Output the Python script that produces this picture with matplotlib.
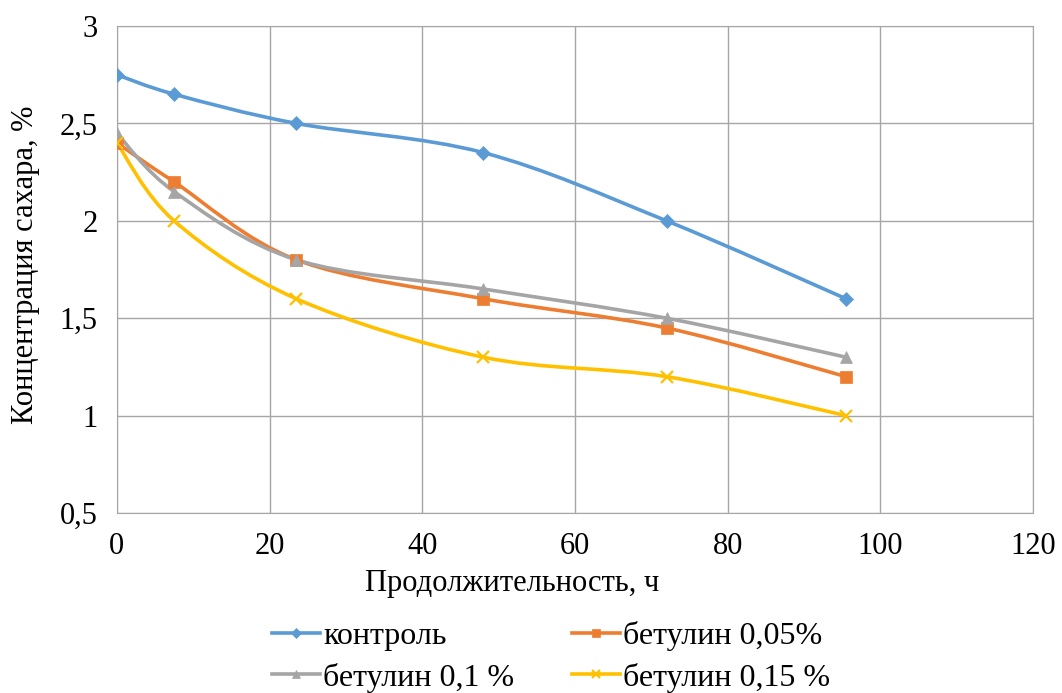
import numpy as np
import matplotlib.pyplot as plt
from matplotlib.path import Path
from matplotlib.patches import PathPatch
from matplotlib.lines import Line2D

plt.rcParams['font.family'] = ['Liberation Serif', 'DejaVu Serif']

# ---- данные ----
hours = [0, 7.5, 23.5, 48, 72, 95.5]
control = [2.75, 2.65, 2.5, 2.35, 2.0, 1.6]
bet_005 = [2.4, 2.2, 1.8, 1.6, 1.45, 1.2]
bet_01 = [2.45, 2.15, 1.8, 1.65, 1.5, 1.3]
bet_015 = [2.4, 2.0, 1.6, 1.3, 1.2, 1.0]
labels = ["контроль", "бетулин 0,05%", "бетулин 0,1 %", "бетулин 0,15 %"]
colors = ["#5B9BD5", "#ED7D31", "#A5A5A5", "#FFC000"]
markers = ["D", "s", "^", "x"]
msizes = [7, 9, 9, 9]


def smooth_path(x, y):
    # сглаженная линия как в Excel (кубические Безье)
    pts = np.column_stack([x, y]).astype(float)
    n = len(pts)
    verts = [pts[0]]
    codes = [Path.MOVETO]
    for i in range(n - 1):
        p0 = pts[i - 1] if i > 0 else pts[i]
        p1 = pts[i]
        p2 = pts[i + 1]
        p3 = pts[i + 2] if i + 2 < n else pts[i + 1]
        c1 = p1 + (p2 - p0) / 6.0
        c2 = p2 - (p3 - p1) / 6.0
        verts += [c1, c2, p2]
        codes += [Path.CURVE4] * 3
    return Path(verts, codes)


fig = plt.figure(figsize=(10.62, 6.93), dpi=100)
ax = fig.add_axes([0.110, 0.2597, 0.8627, 0.7028])

series = [control, bet_005, bet_01, bet_015]
handles = []
for s, lab, c, m, ms in zip(series, labels, colors, markers, msizes):
    mew = 1.6 if m == 'x' else 0.5
    patch = PathPatch(smooth_path(hours, s), facecolor='none', edgecolor=c, lw=2.6, zorder=3)
    ax.add_patch(patch)
    ax.plot(hours, s, linestyle='none', marker=m, color=c, markersize=ms,
            markeredgewidth=mew, zorder=4)
    handles.append(Line2D([], [], color=c, lw=2.6, marker=m, markersize=ms * 0.7,
                          markeredgewidth=mew))

ax.set_xlim(0, 120)
ax.set_ylim(0.5, 3)
ax.set_xticks(range(0, 121, 20))
ax.set_yticks([0.5, 1, 1.5, 2, 2.5, 3])
ax.set_yticklabels(["0,5", "1", "1,5", "2", "2,5", "3"])
ax.grid(True, color="#a6a6a6", lw=1.0)
ax.set_axisbelow(True)
for sp in ax.spines.values():
    sp.set_color("#a6a6a6")
ax.tick_params(length=0, labelsize=22, pad=14)

ax.set_xlabel("Продолжительность, ч", fontsize=22)
ax.xaxis.set_label_coords(0.431, -0.115)
ax.set_ylabel("Концентрация сахара, %", fontsize=22)
ax.yaxis.set_label_coords(-0.084, 0.51)

# порядок по строкам, как в исходной легенде
order = [0, 2, 1, 3]
fig.legend([handles[i] for i in order], [labels[i] for i in order], loc='center',
           bbox_to_anchor=(0.519, 0.052), ncol=2, frameon=False, fontsize=23,
           handlelength=1.5, columnspacing=1.8, handletextpad=0.1, labelspacing=0.35)

fig.savefig("out.png", dpi=100)
